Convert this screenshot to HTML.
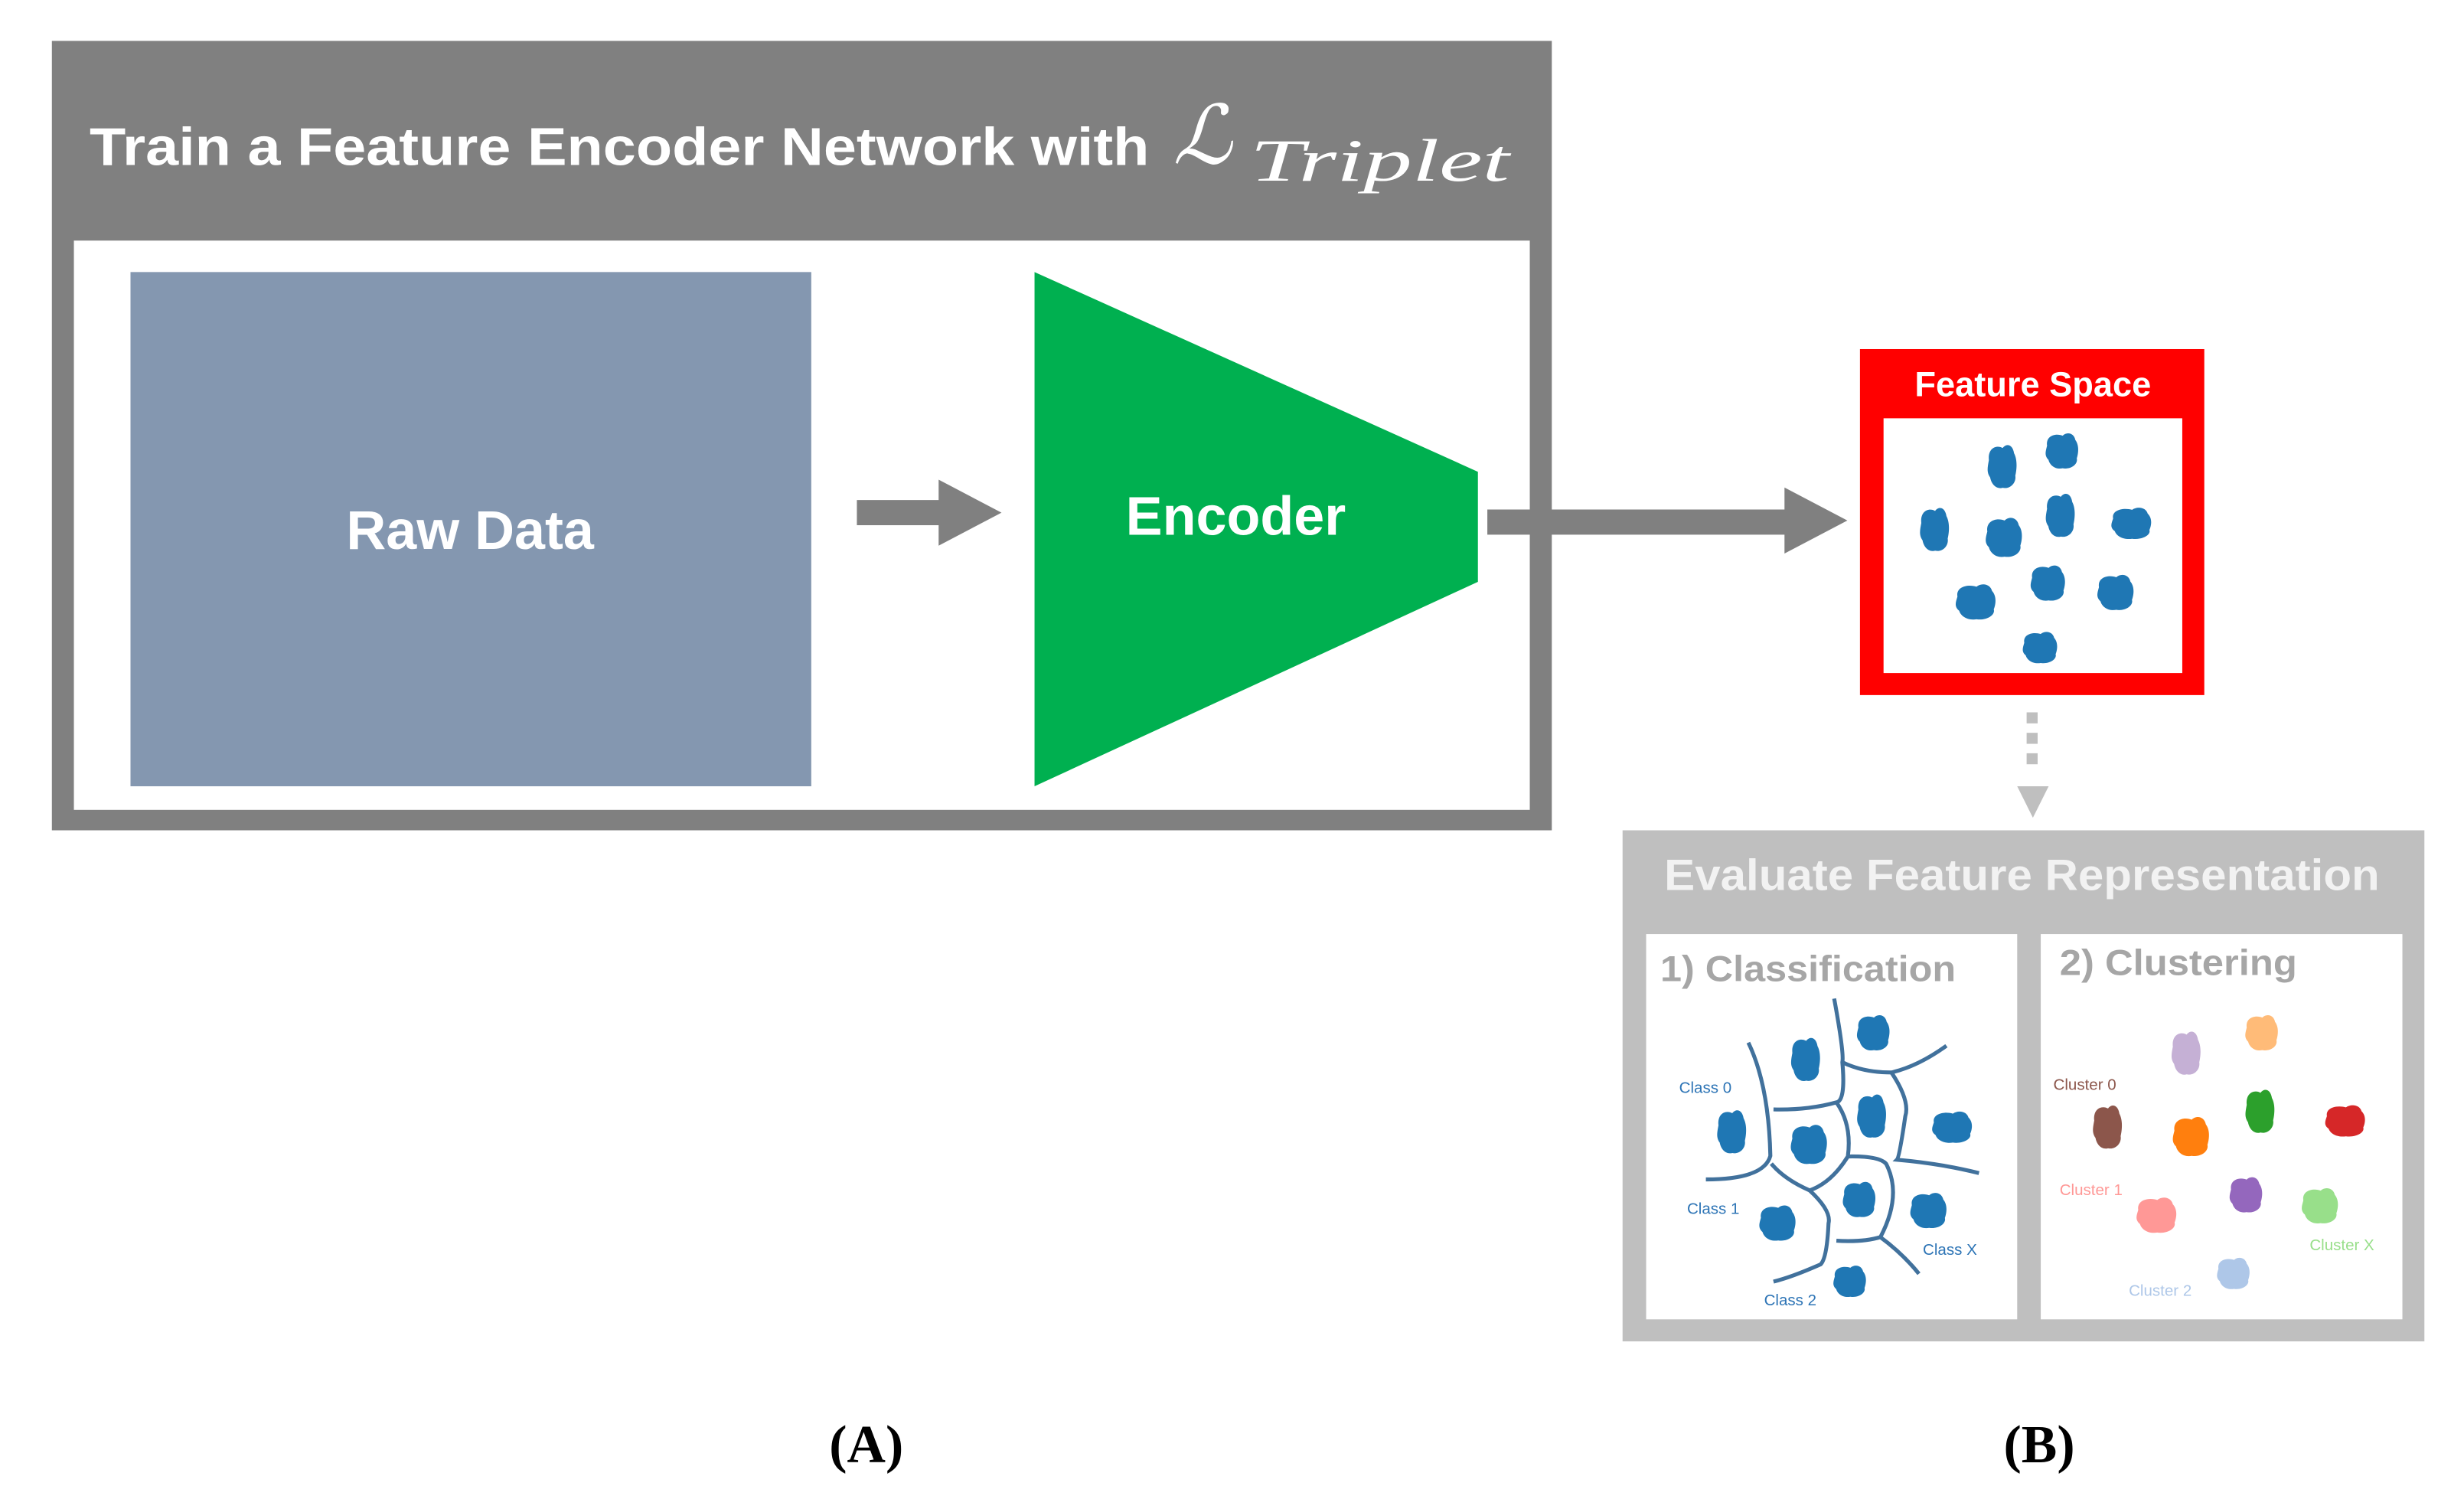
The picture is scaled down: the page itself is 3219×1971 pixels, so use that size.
<!DOCTYPE html>
<html><head><meta charset="utf-8"><style>html,body{margin:0;padding:0;background:#fff}svg{display:block}</style></head>
<body>
<svg width="3219" height="1971" viewBox="0 0 3219 1971" xmlns="http://www.w3.org/2000/svg">
<defs>
<g id="b"><path d="M-10,-4 C-11,-11 -4,-13 1,-11 C4,-14 9,-13 10,-8 C13,-4 12,2 11,5 C12,9 7,13 1,12 C-4,13 -8,10 -9,6 C-12,3 -11,0 -10,-4 Z"/></g>
</defs>
<g transform="scale(2.054)" font-family="Liberation Sans, sans-serif">
<rect x="33" y="26" width="954" height="502" fill="#808080"/>
<rect x="47" y="153" width="926" height="362" fill="#fff"/>
<text x="57" y="105" font-size="34" font-weight="bold" fill="#fff" textLength="674" lengthAdjust="spacingAndGlyphs">Train a Feature Encoder Network with</text>
<text x="746" y="104" font-size="52" font-style="italic" font-family="Liberation Serif, serif" fill="#fff">ℒ</text>
<text x="795" y="115" font-size="38" font-style="italic" font-family="Liberation Serif, serif" fill="#fff" textLength="165" lengthAdjust="spacingAndGlyphs">Triplet</text>
<rect x="83" y="173" width="433" height="327" fill="#8497b0"/>
<text x="299" y="349" font-size="35" font-weight="bold" fill="#fff" text-anchor="middle">Raw Data</text>
<polygon points="545,318 597,318 597,305 637,326 597,347 597,334 545,334" fill="#808080"/>
<polygon points="658,173 940,300 940,370 658,500" fill="#00b050"/>
<text x="786" y="340" font-size="35" font-weight="bold" fill="#fff" text-anchor="middle">Encoder</text>
<polygon points="946,324 1135,324 1135,310 1175,331 1135,352 1135,340 946,340" fill="#808080"/>
<rect x="1183" y="222" width="219" height="220" fill="#ff0000"/>
<rect x="1198" y="266" width="190" height="162" fill="#fff"/>
<text x="1293" y="252" font-size="22" font-weight="bold" fill="#fff" text-anchor="middle">Feature Space</text>
<g fill="#1f77b4">
<use href="#b" transform="translate(1273,297) scale(0.8,1.1)"/>
<use href="#b" transform="translate(1311,287) scale(0.9,0.9)"/>
<use href="#b" transform="translate(1230,337) scale(0.8,1.1)"/>
<use href="#b" transform="translate(1274,342) scale(1,1)"/>
<use href="#b" transform="translate(1310,328) scale(0.8,1.1)"/>
<use href="#b" transform="translate(1355,333) scale(1.1,0.8)"/>
<use href="#b" transform="translate(1256,383) scale(1.1,0.9)"/>
<use href="#b" transform="translate(1302,371) scale(0.95,0.9)"/>
<use href="#b" transform="translate(1345,377) scale(1,0.9)"/>
<use href="#b" transform="translate(1297,412) scale(0.95,0.8)"/>
</g>
<g fill="#bfbfbf">
<rect x="1289" y="453" width="7" height="7"/><rect x="1289" y="466" width="7" height="7"/><rect x="1289" y="479" width="7" height="7"/>
<polygon points="1283,500 1303,500 1293,520"/>
</g>
<rect x="1032" y="528" width="510" height="325" fill="#bfbfbf"/>
<text x="1286" y="566" font-size="28" font-weight="bold" fill="#f2f2f2" text-anchor="middle" textLength="455" lengthAdjust="spacingAndGlyphs">Evaluate Feature Representation</text>
<rect x="1047" y="594" width="236" height="245" fill="#fff"/>
<rect x="1298" y="594" width="230" height="245" fill="#fff"/>
<text x="1056" y="624" font-size="23" font-weight="bold" fill="#a6a6a6" textLength="188" lengthAdjust="spacingAndGlyphs">1) Classification</text>
<text x="1310" y="620" font-size="23" font-weight="bold" fill="#a6a6a6" textLength="151" lengthAdjust="spacingAndGlyphs">2) Clustering</text>
<g fill="none" stroke="#41719c" stroke-width="2.5">
<path d="M1112,663 Q1125,690 1126,735 Q1122,750 1085,750"/>
<path d="M1166.6,635 Q1173,670 1171.8,675.5 Q1174,700 1168,701 Q1150,706 1128,705.5"/>
<path d="M1171.8,675.5 Q1185,682 1203,682 Q1220,678 1238,665"/>
<path d="M1203,682 Q1215,700 1211.8,710 Q1208,736 1206.5,737.5 Q1235,740 1258.7,746"/>
<path d="M1168,701 Q1178,715 1175.3,735.4 Q1165,752 1151,757 Q1135,750 1126.6,740"/>
<path d="M1175.3,735.4 Q1195,735 1199.6,740 Q1210,760 1196,786.7 Q1185,790 1168,789"/>
<path d="M1151,757 Q1165,770 1163,778 Q1162,800 1158,804 Q1140,812 1128,815"/>
<path d="M1196,786.7 Q1210,797 1220.5,810"/>
</g>
<g fill="#1f77b4">
<use href="#b" transform="translate(1148,674) scale(0.8,1.1)"/>
<use href="#b" transform="translate(1191,657) scale(0.9,0.9)"/>
<use href="#b" transform="translate(1101,720) scale(0.8,1.1)"/>
<use href="#b" transform="translate(1150,728) scale(1,1)"/>
<use href="#b" transform="translate(1190,710) scale(0.8,1.1)"/>
<use href="#b" transform="translate(1241,717) scale(1.1,0.8)"/>
<use href="#b" transform="translate(1130,778) scale(1,0.9)"/>
<use href="#b" transform="translate(1182,763) scale(0.9,0.9)"/>
<use href="#b" transform="translate(1226,770) scale(1,0.9)"/>
<use href="#b" transform="translate(1176,815) scale(0.9,0.8)"/>
</g>
<g font-size="10" fill="#2e75b6">
<text x="1068" y="695">Class 0</text>
<text x="1073" y="772">Class 1</text>
<text x="1223" y="798">Class X</text>
<text x="1122" y="830">Class 2</text>
</g>
<use href="#b" fill="#c5b0d5" transform="translate(1390,670) scale(0.8,1.1)"/>
<use href="#b" fill="#ffbb78" transform="translate(1438,657) scale(0.9,0.9)"/>
<use href="#b" fill="#8c564b" transform="translate(1340,717) scale(0.8,1.1)"/>
<use href="#b" fill="#ff7f0e" transform="translate(1393,723) scale(1,1)"/>
<use href="#b" fill="#2ca02c" transform="translate(1437,707) scale(0.8,1.1)"/>
<use href="#b" fill="#d62728" transform="translate(1491,713) scale(1.1,0.8)"/>
<use href="#b" fill="#9467bd" transform="translate(1428,760) scale(0.9,0.9)"/>
<use href="#b" fill="#ff9896" transform="translate(1371,773) scale(1.1,0.9)"/>
<use href="#b" fill="#98df8a" transform="translate(1475,767) scale(1,0.9)"/>
<use href="#b" fill="#aec7e8" transform="translate(1420,810) scale(0.9,0.8)"/>
<g font-size="10">
<text x="1306" y="693" fill="#8c564b">Cluster 0</text>
<text x="1310" y="760" fill="#ff9896">Cluster 1</text>
<text x="1469" y="795" fill="#98df8a">Cluster X</text>
<text x="1354" y="824" fill="#aec7e8">Cluster 2</text>
</g>
<g font-family="Liberation Serif, serif" font-weight="bold" font-size="34" fill="#000" text-anchor="middle">
<text x="551" y="930">(A)</text>
<text x="1297" y="930">(B)</text>
</g>
</g>
</svg>
</body></html>
